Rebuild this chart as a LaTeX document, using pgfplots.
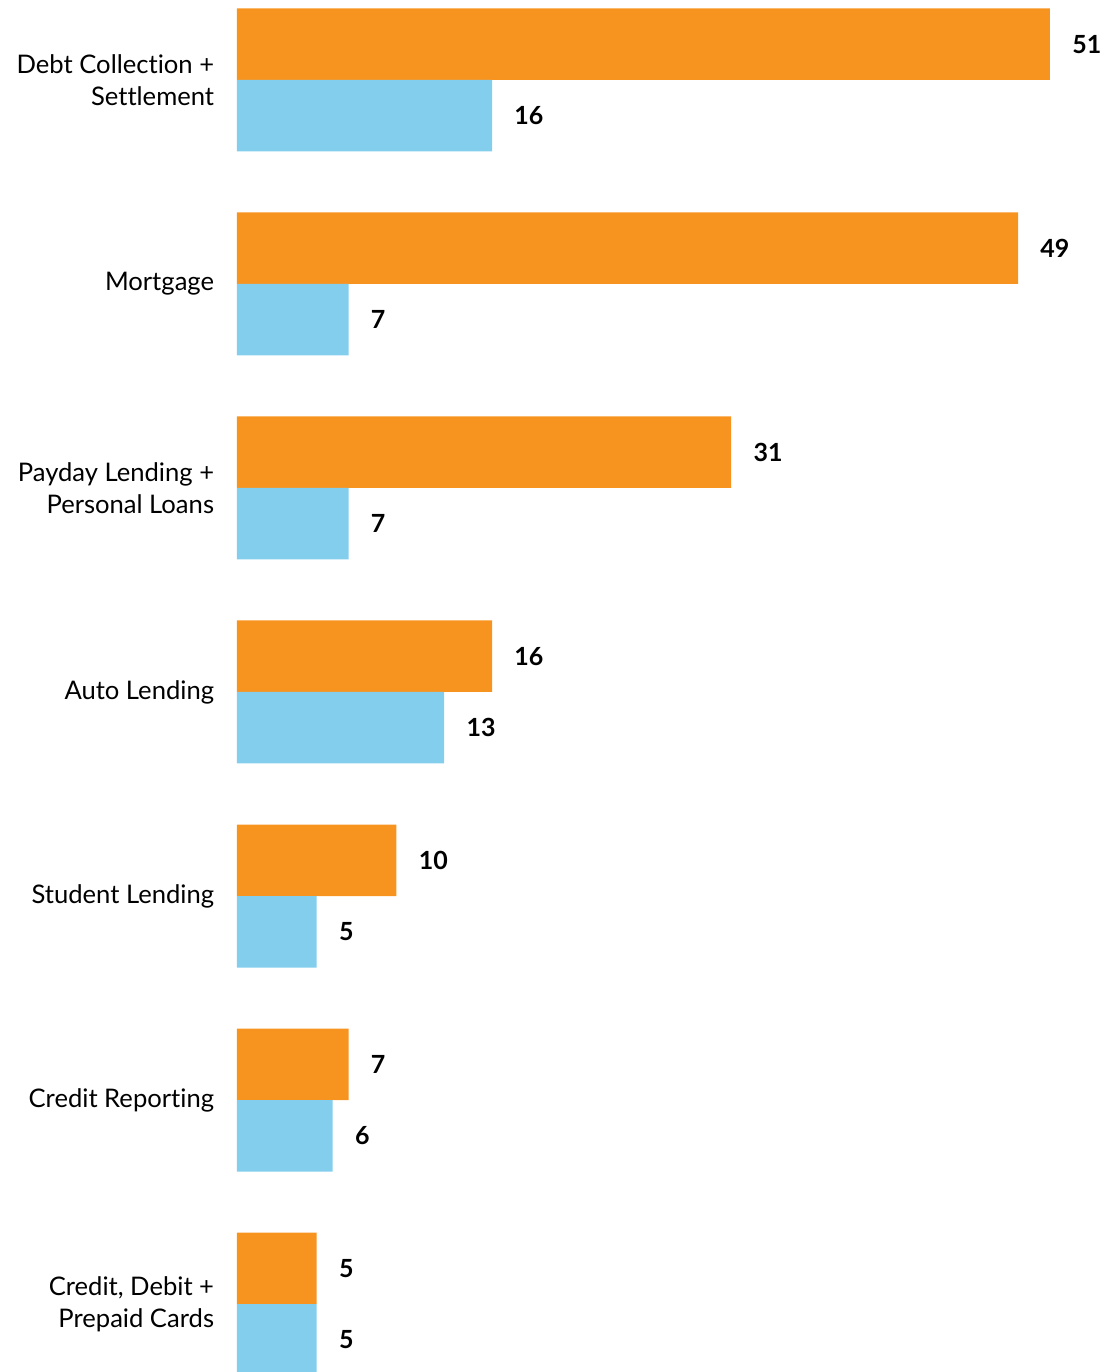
\documentclass[border=0pt]{standalone}
\usepackage{pgfplots}
\pgfplotsset{compat=1.18}
\usepackage{fontspec}
\setmainfont{Lato}[RawFeature={-liga;-calt;-dlig}]
\definecolor{cforange}{HTML}{F7941F}
\definecolor{cfblue}{HTML}{82CEEC}
\begin{document}
\begin{tikzpicture}
\useasboundingbox (0,0) rectangle (555pt,686pt);
\begin{axis}[
  at={(118.5pt,0pt)}, anchor=south west,
  scale only axis, width=436.5pt, height=686pt,
  xbar, bar width=35.75pt,
  xmin=0, xmax=54.77, ymin=-0.3333, ymax=6.3922,
  axis lines*=left, axis line style={draw=none},
  xtick=\empty, ytick={0,...,6}, ytick style={draw=none},
  yticklabels={{Credit, Debit +\\Prepaid Cards},{Credit Reporting},{Student Lending},{Auto Lending},{Payday Lending +\\Personal Loans},{Mortgage},{Debt Collection +\\Settlement}},
  yticklabel style={align=right, font=\fontsize{12.8}{16}\selectfont, inner sep=0pt, xshift=-7pt, anchor=east},
  /pgf/number format/assume math mode=true,
  nodes near coords,
  every node near coord/.append style={anchor=west, inner sep=0pt, xshift=11pt, font=\fontsize{12.5}{14}\selectfont\bfseries, text=black},
]
\addplot[fill=cforange, draw=none, bar shift=17.875pt] coordinates {(5,0) (7,1) (10,2) (16,3) (31,4) (49,5) (51,6)};
\addplot[fill=cfblue, draw=none, bar shift=-17.875pt] coordinates {(5,0) (6,1) (5,2) (13,3) (7,4) (7,5) (16,6)};
\end{axis}
\end{tikzpicture}
\end{document}
